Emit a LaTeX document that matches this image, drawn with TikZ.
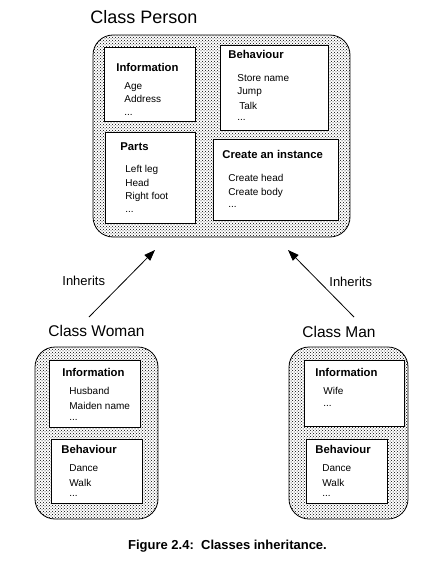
\documentclass[tikz,border=0pt]{standalone}
\usepackage{fontspec}
\setmainfont{Liberation Sans}
\usetikzlibrary{arrows.meta,patterns}

\begin{document}
\begin{tikzpicture}[
        x=1pt, y=-1pt,
        line width=0.8pt,
        classbox/.style={draw, rounded corners=20pt, inner sep=0pt,
                         pattern=crosshatch dots, pattern color=black},
        partbox/.style={draw, fill=white, inner sep=0pt},
        classname/.style={anchor=base west, inner sep=0pt, font=\fontsize{15.5}{18}\selectfont},
        boxtitle/.style={anchor=base west, inner sep=0pt, font=\fontsize{11.3}{13}\selectfont\bfseries},
        items/.style={anchor=north west, inner sep=0pt, align=left, font=\fontsize{10}{13}\selectfont},
        inherit/.style={-{Triangle[length=11pt,width=8pt]}},
        note/.style={anchor=base west, inner sep=0pt, font=\fontsize{13}{15}\selectfont}
    ]
        \useasboundingbox (0,0) rectangle (446,567);

        % class Person
        \node[classname, font=\fontsize{18}{21}\selectfont] (personname) at (90,24) {Class Person};
        \node[classbox, minimum width=257pt, minimum height=202pt] (person) at (221.5,136) {};
        \node[partbox, minimum width=91pt, minimum height=74pt] (pinfobox) at (149.5,84) {};
        \node[partbox, minimum width=108pt, minimum height=85pt] (pbehbox) at (274,87.5) {};
        \node[partbox, minimum width=90pt, minimum height=91pt] (ppartsbox) at (150,177.5) {};
        \node[partbox, minimum width=125pt, minimum height=81pt] (pcreatebox) at (275.5,179.5) {};

        \node[boxtitle] (pinfo) at (116,72) {Information};
        \node[items] (pinfoitems) at (124,82.3) {Age\\Address\\[-0.5pt]...};
        \node[boxtitle] (pbeh) at (228,59) {Behaviour};
        \node[items] (pbehitems) at (237,74.5) {Store name\\[-0.7pt]Jump\\[2.3pt]\hspace{2pt}Talk\\[-2pt]...};
        \node[boxtitle] (pparts) at (120,150) {Parts};
        \node[items] (ppartsitems) at (125,165.1) {Left leg\\[0.7pt]Head\\[0.3pt]Right foot\\[-0.3pt]...};
        \node[boxtitle] (pcreate) at (222,158) {Create an instance};
        \node[items] (pcreateitems) at (228,173.8) {Create head\\[1.3pt]Create body\\[-1.3pt]...};

        % class Woman
        \node[classname] (womanname) at (48,336) {Class Woman};
        \node[classbox, minimum width=123pt, minimum height=172pt] (woman) at (96.5,433) {};
        \node[partbox, minimum width=91pt, minimum height=67pt] (winfobox) at (94.5,393.5) {};
        \node[partbox, minimum width=91pt, minimum height=64pt] (wbehbox) at (96.5,471) {};

        \node[boxtitle] (winfo) at (62,376) {Information};
        \node[items] (winfoitems) at (69,386.8) {Husband\\[2pt]Maiden name\\[-2pt]...};
        \node[boxtitle] (wbeh) at (61,453) {Behaviour};
        \node[items] (wbehitems) at (69,464.5) {Dance\\[2pt]Walk\\[-3pt]...};

        % class Man
        \node[classname] (manname) at (302,337) {Class Man};
        \node[classbox, minimum width=119pt, minimum height=172pt] (man) at (348.5,433) {};
        \node[partbox, minimum width=100pt, minimum height=66pt] (minfobox) at (354,393) {};
        \node[partbox, minimum width=81pt, minimum height=64pt] (mbehbox) at (346.5,471) {};

        \node[boxtitle] (minfo) at (315,376) {Information};
        \node[items] (minfoitems) at (323,386.8) {Wife\\[-0.5pt]...};
        \node[boxtitle] (mbeh) at (315,453) {Behaviour};
        \node[items] (mbehitems) at (322,464.5) {Dance\\[2pt]Walk\\[-3pt]...};

        % inheritance
        \coordinate (womanfrom) at (89,317);
        \coordinate (womanto) at (155,250);
        \coordinate (manfrom) at (354,317);
        \coordinate (manto) at (288,250);
        \draw[inherit] (womanfrom) -- (womanto);
        \draw[inherit] (manfrom) -- (manto);
        \node[note] (womaninherits) at (62,285) {Inherits};
        \node[note] (maninherits) at (329,286.5) {Inherits};

        \node[anchor=base, inner sep=0pt, font=\fontsize{13}{15}\selectfont\bfseries] (caption) at (227.5,549) {Figure 2.4:\ \ Classes inheritance.};
    \end{tikzpicture}
\end{document}
